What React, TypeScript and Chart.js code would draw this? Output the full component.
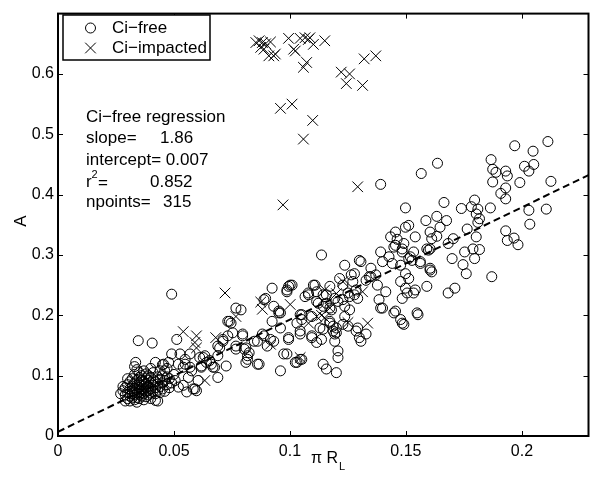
import React, { useEffect, useRef } from "react";
import { Chart, registerables } from "chart.js";

Chart.register(...registerables);

const FONT = '"Liberation Sans", Arial, Helvetica, sans-serif';

const X_MIN = 0;
const X_MAX = 0.2287;
const Y_MIN = 0;
const Y_MAX = 0.7;
const X_TICKS = [0, 0.05, 0.1, 0.15, 0.2];
const X_TICK_LABELS = ["0", "0.05", "0.1", "0.15", "0.2"];
const Y_TICKS = [0, 0.1, 0.2, 0.3, 0.4, 0.5, 0.6];
const Y_TICK_LABELS = ["0", "0.1", "0.2", "0.3", "0.4", "0.5", "0.6"];

const X_TITLE = "π R";
const X_TITLE_SUB = "L";
const Y_TITLE = "A";

const LEGEND_LABELS = ["Ci−free", "Ci−impacted"];

const SLOPE = 1.86;
const INTERCEPT = 0.007;
const R2 = "0.852";
const NPOINTS = "315";

// Ci-free samples [πR_L, A]
const CI_FREE: [number, number][] = [
  // dense cluster
  [0.028, 0.075], [0.029, 0.068], [0.029, 0.080], [0.030, 0.062], [0.030, 0.072], [0.030, 0.085],
  [0.031, 0.058], [0.031, 0.066], [0.031, 0.078], [0.031, 0.090], [0.032, 0.063], [0.032, 0.070],
  [0.032, 0.075], [0.032, 0.083], [0.032, 0.095], [0.033, 0.060], [0.033, 0.068], [0.033, 0.073],
  [0.033, 0.079], [0.033, 0.088], [0.033, 0.102], [0.033, 0.115], [0.034, 0.064], [0.034, 0.071],
  [0.034, 0.077], [0.034, 0.084], [0.034, 0.092], [0.034, 0.110], [0.035, 0.062], [0.035, 0.069],
  [0.035, 0.074], [0.035, 0.081], [0.035, 0.087], [0.035, 0.097], [0.035, 0.105], [0.036, 0.066],
  [0.036, 0.072], [0.036, 0.078], [0.036, 0.085], [0.036, 0.092], [0.036, 0.100], [0.037, 0.060],
  [0.037, 0.070], [0.037, 0.076], [0.037, 0.083], [0.037, 0.090], [0.037, 0.108], [0.038, 0.065],
  [0.038, 0.073], [0.038, 0.080], [0.038, 0.087], [0.038, 0.096], [0.038, 0.103], [0.039, 0.068],
  [0.039, 0.075], [0.039, 0.082], [0.039, 0.092], [0.039, 0.100], [0.040, 0.062], [0.040, 0.071],
  [0.040, 0.079], [0.040, 0.088], [0.040, 0.097], [0.040, 0.112], [0.041, 0.074], [0.041, 0.084],
  [0.041, 0.093], [0.041, 0.105], [0.042, 0.059], [0.042, 0.070], [0.042, 0.080], [0.042, 0.090],
  [0.042, 0.122], [0.043, 0.076], [0.043, 0.086], [0.043, 0.098], [0.044, 0.072], [0.044, 0.082],
  [0.044, 0.094], [0.044, 0.108], [0.045, 0.078], [0.045, 0.088], [0.045, 0.100], [0.045, 0.118],
  [0.046, 0.074], [0.046, 0.092], [0.046, 0.108], [0.047, 0.085], [0.047, 0.098], [0.047, 0.112],
  [0.048, 0.080], [0.048, 0.095], [0.049, 0.088], [0.050, 0.102], [0.027, 0.070], [0.028, 0.082],
  [0.029, 0.058], [0.030, 0.095], [0.043, 0.058], [0.034, 0.056], [0.0346, 0.158], [0.0406, 0.154],
  [0.0335, 0.122], [0.0455, 0.119],
  // left-middle
  [0.049, 0.235], [0.0512, 0.160], [0.0526, 0.136], [0.049, 0.136], [0.0519, 0.119], [0.0477, 0.122],
  [0.0548, 0.119], [0.0569, 0.114], [0.0562, 0.097], [0.0505, 0.092], [0.0519, 0.081], [0.0555, 0.073],
  [0.059, 0.078], [0.0604, 0.092], [0.0618, 0.114], [0.0611, 0.130], [0.0633, 0.133], [0.064, 0.122],
  [0.0661, 0.119], [0.0675, 0.114], [0.0689, 0.133], [0.0697, 0.146], [0.0711, 0.157], [0.0732, 0.166],
  [0.0746, 0.187], [0.0767, 0.212], [0.0789, 0.209], [0.0732, 0.190], [0.0753, 0.171], [0.0796, 0.166],
  [0.0767, 0.144], [0.081, 0.146], [0.0817, 0.133], [0.081, 0.122], [0.0725, 0.116], [0.0689, 0.097],
  [0.0867, 0.119], [0.086, 0.157], [0.0888, 0.166], [0.0895, 0.228], [0.0923, 0.245], [0.093, 0.215],
  [0.0923, 0.190], [0.0952, 0.204], [0.0902, 0.149], [0.093, 0.157], [0.0973, 0.136], [0.0959, 0.108],
  [0.0987, 0.239], [0.1001, 0.250], [0.0994, 0.160], [0.1023, 0.122], [0.0994, 0.248], [0.0888, 0.226],
  [0.0739, 0.190], [0.0959, 0.204], [0.0796, 0.169], [0.0881, 0.169], [0.0846, 0.157], [0.0916, 0.160],
  [0.0711, 0.160], [0.0689, 0.149], [0.0767, 0.149], [0.0803, 0.144], [0.0824, 0.138], [0.0817, 0.127],
  [0.086, 0.119], [0.103, 0.122], [0.0654, 0.125], [0.0668, 0.114], [0.0618, 0.116], [0.0626, 0.130],
  [0.0569, 0.136], [0.0548, 0.127], [0.054, 0.114], [0.0576, 0.108], [0.0583, 0.078], [0.0597, 0.075],
  [0.054, 0.084],
  // middle
  [0.1136, 0.300], [0.1236, 0.283], [0.1306, 0.289], [0.1278, 0.269], [0.1349, 0.278], [0.137, 0.267],
  [0.1399, 0.289], [0.1391, 0.305], [0.1427, 0.297], [0.1434, 0.330], [0.1448, 0.313], [0.1491, 0.319],
  [0.1484, 0.305], [0.1519, 0.297], [0.154, 0.330], [0.1562, 0.289], [0.1597, 0.308], [0.1604, 0.275],
  [0.1611, 0.327], [0.1441, 0.286], [0.1214, 0.261], [0.1271, 0.256], [0.1285, 0.242], [0.1328, 0.258],
  [0.1349, 0.264], [0.1377, 0.250], [0.1413, 0.239], [0.1384, 0.226], [0.1399, 0.212], [0.1455, 0.207],
  [0.1477, 0.193], [0.1484, 0.187], [0.1498, 0.269], [0.1512, 0.261], [0.1477, 0.256], [0.1498, 0.245],
  [0.1505, 0.237], [0.1484, 0.228], [0.1533, 0.237], [0.1548, 0.204], [0.159, 0.248], [0.1611, 0.272],
  [0.1292, 0.228], [0.1257, 0.231], [0.1228, 0.226], [0.1193, 0.228], [0.1157, 0.234], [0.1108, 0.250],
  [0.1079, 0.237], [0.1065, 0.231], [0.1115, 0.223], [0.1143, 0.215], [0.1179, 0.209], [0.1257, 0.209],
  [0.1236, 0.198], [0.1228, 0.185], [0.1285, 0.174], [0.1299, 0.163], [0.1328, 0.169], [0.1292, 0.179],
  [0.12, 0.179], [0.1172, 0.187], [0.1193, 0.169], [0.1129, 0.179], [0.1094, 0.163], [0.1044, 0.174],
  [0.103, 0.187], [0.1051, 0.201], [0.0987, 0.242], [0.1009, 0.250], [0.0952, 0.207], [0.0994, 0.163],
  [0.0959, 0.179], [0.1115, 0.155], [0.1193, 0.157], [0.1044, 0.169], [0.1094, 0.166], [0.1136, 0.160],
  [0.1143, 0.177], [0.1172, 0.190], [0.1186, 0.182], [0.12, 0.171], [0.1207, 0.141], [0.1207, 0.130],
  [0.1143, 0.119], [0.1157, 0.111], [0.12, 0.105], [0.1044, 0.127], [0.1306, 0.157], [0.125, 0.182],
  [0.1391, 0.212], [0.1448, 0.204], [0.1491, 0.185], [0.1172, 0.212], [0.1094, 0.198], [0.1299, 0.291],
  [0.1455, 0.316], [0.1526, 0.291], [0.1562, 0.286], [0.1264, 0.267], [0.1342, 0.264], [0.1228, 0.250],
  [0.125, 0.237], [0.1278, 0.234], [0.1207, 0.223], [0.1172, 0.248], [0.1143, 0.234], [0.1157, 0.220],
  [0.1115, 0.239], [0.1122, 0.220], [0.108, 0.234], [0.1101, 0.250], [0.1044, 0.201], [0.1051, 0.193],
  [0.1186, 0.174], [0.0987, 0.136], [0.1051, 0.127], [0.1236, 0.215],
  // upper right
  [0.1391, 0.417], [0.1566, 0.435], [0.1636, 0.452], [0.1498, 0.378], [0.1664, 0.387], [0.1512, 0.349],
  [0.1498, 0.346], [0.1586, 0.357], [0.1633, 0.364], [0.1675, 0.357], [0.1647, 0.346], [0.1604, 0.338],
  [0.1633, 0.331], [0.1704, 0.327], [0.1682, 0.319], [0.1764, 0.343], [0.1803, 0.330], [0.1739, 0.377],
  [0.1782, 0.380], [0.1796, 0.391], [0.181, 0.376], [0.1803, 0.368], [0.1817, 0.360], [0.181, 0.354],
  [0.1864, 0.378], [0.1867, 0.458], [0.1874, 0.442], [0.1888, 0.437], [0.193, 0.439], [0.1937, 0.431],
  [0.1874, 0.421], [0.193, 0.411], [0.1909, 0.402], [0.193, 0.393], [0.1991, 0.420], [0.1969, 0.481],
  [0.2048, 0.472], [0.2112, 0.488], [0.2011, 0.447], [0.2051, 0.450], [0.203, 0.439], [0.2125, 0.422],
  [0.203, 0.374], [0.2105, 0.376], [0.2034, 0.351], [0.193, 0.340], [0.1937, 0.324], [0.1966, 0.328],
  [0.1983, 0.317], [0.1796, 0.294], [0.1817, 0.309], [0.1789, 0.310], [0.1753, 0.305], [0.1699, 0.294],
  [0.1746, 0.284], [0.1604, 0.310], [0.159, 0.310], [0.1533, 0.305], [0.1484, 0.310], [0.1455, 0.338],
  [0.1462, 0.326], [0.1477, 0.283], [0.1512, 0.294], [0.1604, 0.278], [0.154, 0.242], [0.1552, 0.201],
  [0.1760, 0.269], [0.187, 0.264], [0.1682, 0.237], [0.1711, 0.245],
];

// Ci-impacted samples [πR_L, A]
const CI_IMPACTED: [number, number][] = [
  [0.0853, 0.652], [0.0867, 0.655], [0.0881, 0.652], [0.0895, 0.650], [0.0916, 0.653], [0.0874, 0.644],
  [0.0888, 0.641], [0.0909, 0.630], [0.0930, 0.630], [0.0937, 0.633], [0.0994, 0.659], [0.1044, 0.659],
  [0.1065, 0.660], [0.1079, 0.657], [0.1086, 0.660], [0.1101, 0.649], [0.1150, 0.655], [0.1016, 0.641],
  [0.1023, 0.638], [0.1058, 0.611], [0.1072, 0.619], [0.1320, 0.625], [0.1370, 0.630], [0.1221, 0.603],
  [0.1257, 0.600], [0.1243, 0.584], [0.1313, 0.581], [0.0959, 0.543], [0.1009, 0.550], [0.1098, 0.523],
  [0.1058, 0.492], [0.1292, 0.413], [0.0970, 0.383],
  [0.054, 0.173], [0.0597, 0.166], [0.059, 0.155], [0.0597, 0.146], [0.0633, 0.092], [0.068, 0.163],
  [0.072, 0.237], [0.0767, 0.198], [0.0874, 0.222], [0.0881, 0.210], [0.1001, 0.218], [0.0916, 0.152],
  [0.1044, 0.130], [0.108, 0.187], [0.1115, 0.198], [0.115, 0.196], [0.1172, 0.212], [0.12, 0.236],
  [0.1228, 0.256], [0.125, 0.188], [0.1313, 0.239], [0.1335, 0.187], [0.1136, 0.200], [0.115, 0.242],
];

const decorPlugin = {
  id: "decor",
  afterDatasetsDraw(chart: any) {
    const { ctx, chartArea } = chart;
    const { left, right, top, bottom } = chartArea;
    const xs = chart.scales.x;
    const ys = chart.scales.y;
    ctx.save();
    ctx.strokeStyle = "#000";
    ctx.fillStyle = "#000";
    ctx.setLineDash([]);
    // frame
    ctx.lineWidth = 2;
    ctx.strokeRect(left, top, right - left, bottom - top);
    // inward ticks
    ctx.lineWidth = 1;
    const tl = 5;
    ctx.beginPath();
    X_TICKS.forEach((v) => {
      const px = Math.round(xs.getPixelForValue(v)) + 0.5;
      ctx.moveTo(px, bottom);
      ctx.lineTo(px, bottom - tl);
      ctx.moveTo(px, top);
      ctx.lineTo(px, top + tl);
    });
    Y_TICKS.forEach((v) => {
      const py = Math.round(ys.getPixelForValue(v)) + 0.5;
      ctx.moveTo(left, py);
      ctx.lineTo(left + tl, py);
      ctx.moveTo(right, py);
      ctx.lineTo(right - tl, py);
    });
    ctx.stroke();

    // legend box
    const lx = 63, ly = 15, lw = 147, lh = 45;
    ctx.fillStyle = "#fff";
    ctx.fillRect(lx, ly, lw, lh);
    ctx.fillStyle = "#000";
    ctx.lineWidth = 1.5;
    ctx.strokeRect(lx, ly, lw, lh);
    ctx.lineWidth = 1;
    ctx.beginPath();
    ctx.arc(90.5, 28, 5, 0, Math.PI * 2);
    ctx.stroke();
    ctx.beginPath();
    const c = 5.3;
    ctx.moveTo(90.5 - c, 48 - c);
    ctx.lineTo(90.5 + c, 48 + c);
    ctx.moveTo(90.5 + c, 48 - c);
    ctx.lineTo(90.5 - c, 48 + c);
    ctx.stroke();
    ctx.font = `17px ${FONT}`;
    ctx.textAlign = "left";
    ctx.textBaseline = "middle";
    ctx.fillText(LEGEND_LABELS[0], 112, 28);
    ctx.fillText(LEGEND_LABELS[1], 112, 48);

    // regression annotation
    const tx = 86;
    ctx.fillText("Ci−free regression", tx, 117);
    ctx.fillText("slope=", tx, 138.5);
    ctx.fillText(SLOPE.toFixed(2), 160, 138.5);
    ctx.fillText("intercept= " + INTERCEPT.toFixed(3), tx, 160);
    ctx.fillText("r", tx, 182.5);
    ctx.font = `11px ${FONT}`;
    ctx.fillText("2", tx + 5.5, 175);
    ctx.font = `17px ${FONT}`;
    ctx.fillText("=", tx + 12, 183);
    ctx.fillText(R2, 150, 182.5);
    ctx.fillText("npoints=", tx, 202);
    ctx.fillText(NPOINTS, 163, 202);

    // axis titles
    ctx.font = `16px ${FONT}`;
    ctx.textAlign = "left";
    ctx.fillText(X_TITLE, 311, 459);
    const w = ctx.measureText(X_TITLE).width;
    ctx.font = `11px ${FONT}`;
    ctx.fillText(X_TITLE_SUB, 311 + w + 1, 467);
    ctx.font = `17px ${FONT}`;
    ctx.save();
    ctx.translate(21, 221);
    ctx.rotate(-Math.PI / 2);
    ctx.textAlign = "center";
    ctx.fillText(Y_TITLE, 0, 0);
    ctx.restore();
    ctx.restore();
  },
};

export default function App() {
  const ref = useRef<HTMLCanvasElement | null>(null);
  useEffect(() => {
    const canvas = ref.current;
    if (!canvas) return;
    const lineData = [
      { x: X_MIN, y: INTERCEPT + SLOPE * X_MIN },
      { x: X_MAX, y: INTERCEPT + SLOPE * X_MAX },
    ];
    const chart = new Chart(canvas, {
      type: "scatter",
      data: {
        datasets: [
          {
            label: "regression",
            type: "line",
            data: lineData,
            borderColor: "#000",
            borderWidth: 2,
            borderDash: [7, 4],
            pointRadius: 0,
            fill: false,
            order: 0,
          } as any,
          {
            label: LEGEND_LABELS[1],
            data: CI_IMPACTED.map(([x, y]) => ({ x, y })),
            pointStyle: "crossRot",
            pointRadius: 7.5,
            borderColor: "#000",
            borderWidth: 1,
            backgroundColor: "rgba(0,0,0,0)",
            order: 1,
          },
          {
            label: LEGEND_LABELS[0],
            data: CI_FREE.map(([x, y]) => ({ x, y })),
            pointStyle: "circle",
            pointRadius: 5,
            borderColor: "#000",
            borderWidth: 1,
            backgroundColor: "rgba(0,0,0,0)",
            order: 2,
          },
        ],
      },
      options: {
        animation: false,
        responsive: false,
        maintainAspectRatio: false,
        devicePixelRatio: 1,
        layout: { padding: { top: 9, right: 1.5, left: 0, bottom: 0 } },
        plugins: { legend: { display: false }, tooltip: { enabled: false } },
        scales: {
          x: {
            type: "linear",
            min: X_MIN,
            max: X_MAX,
            afterBuildTicks: (s: any) => {
              s.ticks = X_TICKS.map((v) => ({ value: v }));
            },
            afterFit: (s: any) => {
              s.height = 46;
            },
            grid: { display: false, drawTicks: false },
            border: { display: false },
            ticks: {
              callback: (_v: any, i: number) => X_TICK_LABELS[i],
              font: { family: FONT, size: 16 },
              color: "#000",
              padding: 6,
              maxRotation: 0,
              autoSkip: false,
            },
          },
          y: {
            type: "linear",
            min: Y_MIN,
            max: Y_MAX,
            afterBuildTicks: (s: any) => {
              s.ticks = Y_TICKS.map((v) => ({ value: v }));
            },
            afterFit: (s: any) => {
              s.width = 58;
            },
            grid: { display: false, drawTicks: false },
            border: { display: false },
            ticks: {
              callback: (_v: any, i: number) => Y_TICK_LABELS[i],
              font: { family: FONT, size: 16 },
              color: "#000",
              padding: 4,
              autoSkip: false,
            },
          },
        },
      },
      plugins: [decorPlugin],
    });
    return () => chart.destroy();
  }, []);
  return (
    <div style={{ position: "fixed", left: 0, top: 0, width: 597, height: 482, background: "#fff" }}>
      <canvas ref={ref} width={597} height={482} style={{ width: 597, height: 482 }} />
    </div>
  );
}
